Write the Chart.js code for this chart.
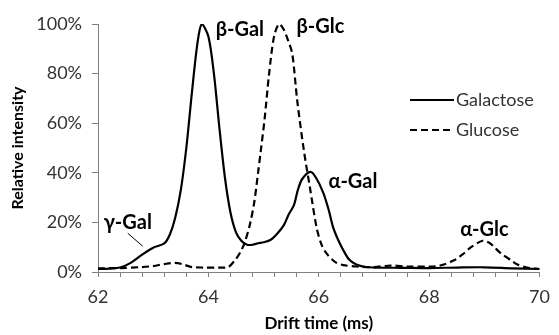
<!DOCTYPE html>
<html>
<head>
<meta charset="utf-8">
<script src="https://cdn.jsdelivr.net/npm/chart.js@4.4.1/dist/chart.umd.min.js"></script>
<style>
  html, body { margin: 0; padding: 0; background: #fff; }
  #wrap { width: 559px; height: 335px; }
</style>
</head>
<body>
<div id="wrap"><canvas id="grafica"></canvas></div>
<script>
// --- datos ---
const galX = [62.0, 62.2, 62.4, 62.6, 62.8, 63.0, 63.2, 63.3, 63.4, 63.5, 63.6, 63.7, 63.8, 63.88, 64.0, 64.1, 64.2, 64.3, 64.4, 64.5, 64.6, 64.7, 64.8, 64.9, 65.0, 65.13, 65.25, 65.37, 65.45, 65.55, 65.62, 65.7, 65.85, 65.95, 66.08, 66.18, 66.26, 66.35, 66.44, 66.55, 66.68, 66.85, 67.0, 67.5, 68.0, 68.5, 69.0, 69.5, 70.0];
const galY = [1.2, 1.4, 1.8, 3.8, 7.0, 9.8, 11.5, 15.0, 22, 33, 50, 72, 92, 100, 95, 80, 58, 38, 24, 16, 12.5, 11.0, 11.0, 11.6, 12.0, 13.0, 15.5, 19, 23, 27, 33, 37.5, 40.4, 38, 32, 25, 18, 13, 9, 5, 3, 2, 1.8, 1.7, 1.6, 1.8, 1.9, 1.5, 1.2];

const gluX = [62.0, 62.4, 62.8, 63.0, 63.2, 63.4, 63.55, 63.7, 63.9, 64.2, 64.36, 64.48, 64.58, 64.66, 64.75, 64.83, 64.9, 64.95, 65.02, 65.1, 65.19, 65.28, 65.36, 65.45, 65.52, 65.61, 65.73, 65.84, 65.96, 66.05, 66.14, 66.3, 66.44, 66.7, 67.0, 67.3, 67.6, 68.0, 68.2, 68.46, 68.6, 68.76, 68.97, 69.1, 69.18, 69.3, 69.48, 69.6, 69.77, 70.0];
const gluY = [1.5, 1.6, 2.0, 2.4, 3.2, 3.7, 3.0, 2.0, 1.8, 1.8, 2.0, 4.7, 8, 12, 19, 28, 40, 49, 62, 80, 95, 100, 98, 93, 88, 69, 49, 34, 18, 11, 7.5, 4, 2.8, 2.2, 2.0, 2.6, 2.2, 2.2, 2.6, 4.8, 7, 10, 12.6, 11.6, 10, 7.5, 4.8, 3, 1.8, 1.2];

const yTicks = [0, 20, 40, 60, 80, 100];
const xLabels = [62, 64, 66, 68, 70];

const nombres = ['Galactose', 'Glucose'];

// etiquetas de los picos (en unidades de datos)
const picos = [
  { texto: 'β-Gal', x: 64.57, y: 97.6 },
  { texto: 'β-Glc', x: 66.03, y: 98.8 },
  { texto: 'α-Gal', x: 66.62, y: 36.3 },
  { texto: 'α-Glc', x: 69.0, y: 17 },
  { texto: 'γ-Gal', x: 62.54, y: 20 }
];
const flechaGamma = { x1: 62.54, y1: 15.6, x2: 62.81, y2: 10.4 };

const FUENTE = 'Lato, "Open Sans", sans-serif';
const aPuntos = (xs, ys) => xs.map((x, i) => ({ x: x, y: ys[i] }));

const pluginExtras = {
  id: 'extras',
  afterDatasetsDraw(chart) {
    const ctx = chart.ctx;
    const sx = chart.scales.x;
    const sy = chart.scales.y;
    ctx.save();

    // etiquetas de picos
    ctx.fillStyle = '#000';
    ctx.font = 'bold 20px ' + FUENTE;
    ctx.textAlign = 'center';
    ctx.textBaseline = 'middle';
    picos.forEach((p) => {
      ctx.fillText(p.texto, sx.getPixelForValue(p.x), sy.getPixelForValue(p.y));
    });

    // linea guia de gamma
    ctx.strokeStyle = '#000';
    ctx.lineWidth = 1;
    ctx.beginPath();
    ctx.moveTo(sx.getPixelForValue(flechaGamma.x1), sy.getPixelForValue(flechaGamma.y1));
    ctx.lineTo(sx.getPixelForValue(flechaGamma.x2), sy.getPixelForValue(flechaGamma.y2));
    ctx.stroke();

    // leyenda
    ctx.font = '18px ' + FUENTE;
    ctx.textAlign = 'left';
    ctx.fillStyle = '#333';
    chart.data.datasets.forEach((ds, i) => {
      const y = 100 + i * 30;
      ctx.strokeStyle = ds.borderColor;
      ctx.lineWidth = ds.borderWidth;
      ctx.setLineDash(ds.borderDash || []);
      ctx.beginPath();
      ctx.moveTo(410, y);
      ctx.lineTo(454, y);
      ctx.stroke();
      ctx.setLineDash([]);
      ctx.fillText(ds.label, 456, y);
    });
    ctx.restore();
  }
};

new Chart(document.getElementById('grafica'), {
  type: 'line',
  data: {
    datasets: [
      {
        label: nombres[0],
        data: aPuntos(galX, galY),
        borderColor: '#000',
        borderWidth: 2.2,
        pointRadius: 0,
        tension: 0.3,
        fill: false
      },
      {
        label: nombres[1],
        data: aPuntos(gluX, gluY),
        borderColor: '#000',
        borderWidth: 2.2,
        borderDash: [7, 4],
        pointRadius: 0,
        tension: 0.3,
        fill: false
      }
    ]
  },
  options: {
    responsive: true,
    maintainAspectRatio: false,
    animation: false,
    layout: { padding: { top: 24, right: 13, left: 0, bottom: 0 } },
    plugins: {
      legend: { display: false },
      tooltip: { enabled: false }
    },
    scales: {
      x: {
        type: 'linear',
        min: 62,
        max: 70,
        afterFit: (s) => { s.height = 63; },
        afterBuildTicks: (s) => {
          const t = [];
          for (let k = 0; k <= 20; k++) t.push({ value: 62 + k * 0.4 });
          s.ticks = t;
        },
        ticks: {
          autoSkip: false,
          maxRotation: 0,
          padding: 9,
          color: '#333',
          font: { family: FUENTE, size: 18 },
          callback: (v) => {
            const r = Math.round(v);
            return Math.abs(v - r) < 1e-6 && xLabels.includes(r) ? String(r) : '';
          }
        },
        grid: { drawOnChartArea: false, tickLength: 5, color: '#808080' },
        border: { color: '#808080', width: 1 },
        title: {
          display: true,
          text: 'Drift time (ms)',
          color: '#000',
          font: { family: FUENTE, size: 17, weight: 'bold' },
          padding: { top: 0, bottom: 1 }
        }
      },
      y: {
        min: 0,
        max: 100,
        afterFit: (s) => { s.width = 98; },
        afterBuildTicks: (s) => { s.ticks = yTicks.map((v) => ({ value: v })); },
        ticks: {
          padding: 10,
          color: '#333',
          font: { family: FUENTE, size: 18 },
          callback: (v) => v + '%'
        },
        grid: { drawOnChartArea: false, tickLength: 6, color: '#808080' },
        border: { color: '#808080', width: 1 },
        title: {
          display: true,
          text: 'Relative intensity',
          color: '#000',
          font: { family: FUENTE, size: 16, weight: 'bold' },
          padding: { top: 8, bottom: 0 }
        }
      }
    }
  },
  plugins: [pluginExtras]
});
</script>
</body>
</html>
